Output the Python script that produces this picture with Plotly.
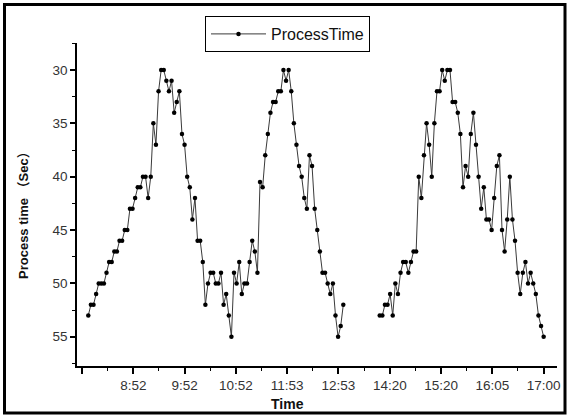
import plotly.graph_objects as go

# ---- data ----
morning_values = [53, 52, 52, 51, 50, 50, 50, 49, 48, 48, 47, 47, 46, 46, 45, 45, 43, 43, 42, 41,
                  41, 40, 40, 42, 40, 35, 37, 32, 30, 30, 31, 32, 31, 34, 33, 32, 36, 37, 40, 41,
                  44, 42, 46, 46, 48, 52, 50, 49, 49, 50, 50, 49, 52, 51, 53, 55, 49, 50, 48, 51,
                  50, 50, 48, 46, 47, 49, 40.5, 41, 38, 36, 34, 33, 33, 32, 32, 30, 31, 30, 32, 35,
                  37, 39, 40, 42, 43, 38, 39, 43, 45, 47, 49, 49, 50, 51, 50, 53, 55, 54, 52]
missing_count = 13
afternoon_values = [53, 53, 52, 52, 51, 53, 50, 51, 49, 48, 48, 49, 48, 47, 47, 40, 42, 38, 35, 37,
                    40, 35, 32, 32, 30, 31, 30, 30, 33, 33, 34, 36, 41, 39, 40, 36, 34, 37, 40, 43,
                    41, 44, 44, 45, 42, 39, 38, 45, 47, 44, 40, 44, 46, 49, 51, 49, 48, 50, 49, 50,
                    51, 53, 54, 55]
process_time = morning_values + [None] * missing_count + afternoon_values
sample_index = list(range(len(process_time)))

time_labels = ["", "8:52", "9:52", "10:52", "11:53", "12:53", "14:20", "15:20", "16:05", "17:00"]
label_start = -2.4
label_step = 19.71
tick_positions = [label_start + label_step * k for k in range(len(time_labels))]

y_ticks = [30, 35, 40, 45, 50, 55]

FONT = "Liberation Sans, Arial, Noto Sans CJK SC, sans-serif"

fig = go.Figure()
fig.add_trace(go.Scatter(
    x=sample_index, y=process_time, mode="lines+markers", name="ProcessTime",
    connectgaps=False,
    line=dict(color="#3a3a3a", width=1),
    marker=dict(color="black", size=4.5),
))

W, H = 569, 416
L, R, T, B = 77, 12, 43, 50
pw, ph = W - L - R, H - T - B

def px_x(p):
    return (p - L) / pw

def px_y(p):
    return (H - B - p) / ph

fig.update_layout(
    width=W, height=H,
    margin=dict(l=L, r=R, t=T, b=B, autoexpand=False),
    paper_bgcolor="white", plot_bgcolor="white",
    font=dict(family=FONT, color="#222", size=12),
    showlegend=True,
    legend=dict(
        x=px_x(205), y=px_y(16), xanchor="left", yanchor="top",
        bordercolor="black", borderwidth=1, bgcolor="white",
        font=dict(size=16, color="#111"),
        itemwidth=55, tracegroupgap=0,
    ),
    xaxis=dict(
        range=[(L - 88.3) / 2.602, (W - R - 88.3) / 2.602],
        showgrid=False, zeroline=False,
        showline=True, linecolor="black", linewidth=1.5,
        ticks="outside", ticklen=6, tickwidth=1.5, tickcolor="black",
        tickmode="array", tickvals=tick_positions, ticktext=time_labels,
        tickfont=dict(size=13.5, color="#333"),
        minor=dict(ticks="outside", ticklen=3, tickwidth=1, tickcolor="black",
                   tickmode="linear", tick0=label_start, dtick=label_step / 2),
    ),
    yaxis=dict(
        range=[57.74, 27.47],
        showgrid=False, zeroline=False,
        showline=True, linecolor="black", linewidth=1.5,
        ticks="outside", ticklen=5, tickwidth=1.5, tickcolor="black",
        tickmode="array", tickvals=y_ticks,
        tickfont=dict(size=13.5, color="#333"),
        minor=dict(ticks="outside", ticklen=3, tickwidth=1, tickcolor="black",
                   tickmode="linear", tick0=27.5, dtick=2.5),
    ),
    annotations=[
        dict(text="<b>Process time （Sec）</b>", textangle=-90,
             xref="paper", yref="paper", x=px_x(23), y=px_y(212),
             xanchor="center", yanchor="middle", showarrow=False,
             font=dict(size=13, color="#111")),
        dict(text="<b>Time</b>",
             xref="paper", yref="paper", x=px_x(287), y=px_y(404),
             xanchor="center", yanchor="middle", showarrow=False,
             font=dict(size=14, color="#111")),
    ],
    shapes=[dict(
        type="rect", xref="paper", yref="paper",
        x0=px_x(4.5), x1=px_x(565),
        y0=px_y(413), y1=px_y(4.5),
        line=dict(color="black", width=3), fillcolor="rgba(0,0,0,0)",
    )],
)

fig.write_html("out.html", config={"displayModeBar": False},
               post_script="document.body.style.margin='0';document.body.style.overflow='hidden';")
